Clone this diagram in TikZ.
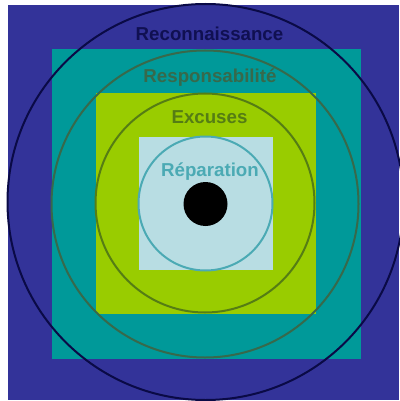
\documentclass[tikz,border=0pt]{standalone}
\usepackage{fontspec}
\setmainfont{Liberation Sans}
\usepackage{xcolor}
\usepackage{tikz}
\usetikzlibrary{positioning}
\definecolor{outerblue}{RGB}{51,51,153}
\definecolor{tealbox}{RGB}{0,153,153}
\definecolor{limebox}{RGB}{153,204,0}
\definecolor{palebox}{RGB}{184,221,227}
\definecolor{navyline}{RGB}{10,10,70}
\definecolor{mossline}{RGB}{55,105,75}
\definecolor{oliveline}{RGB}{85,125,20}
\definecolor{aqualine}{RGB}{75,170,180}

\begin{document}
\begin{tikzpicture}[
  x=1pt, y=-1pt,
  ring/.style={circle, draw=#1, line width=2pt, inner sep=0pt, fill=none},
  tag/.style={font=\bfseries\fontsize{18.7}{20}\selectfont, inner sep=0pt, anchor=base}
]
  \useasboundingbox (0,0) rectangle (399,401);
  % nested squares
  \fill[outerblue] (8,5) rectangle (399,400);
  \fill[tealbox] (52,49) rectangle (361,359);
  \fill[limebox] (96,93) rectangle (316,314);
  \fill[palebox] (139,137) rectangle (273,270);
  % rings
  \coordinate (mid) at (205,203);
  \node[ring=navyline, minimum size=396pt] (recon) at (205.5,202) {};
  \node[ring=mossline, minimum size=307pt] (resp) at (205,204) {};
  \node[ring=oliveline, minimum size=219pt] (exc) at (mid) {};
  \node[ring=aqualine, minimum size=134pt] (rep) at (205.5,203.5) {};
  \node[circle, fill=black, inner sep=0pt, minimum size=44pt] (core) at (205.5,204) {};
  % labels
  \node[tag, text=navyline!85!outerblue] (tRecon) at (209.5,41) {Reconnaissance};
  \node[tag, text=mossline] (tResp) at (210,83) {Responsabilité};
  \node[tag, text=oliveline] (tExc) at (209.5,123) {Excuses};
  \node[tag, text=aqualine] (tRep) at (210,176) {Réparation};
\end{tikzpicture}
\end{document}
